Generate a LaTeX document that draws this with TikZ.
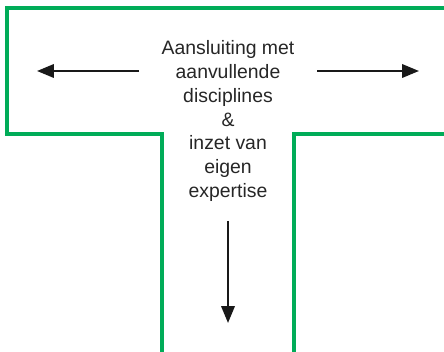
\documentclass[tikz,border=0pt]{standalone}
\usepackage{fontspec}
\setmainfont{Liberation Sans}
\usetikzlibrary{arrows.meta}
\definecolor{tgreen}{RGB}{0,172,88}

\begin{document}
\begin{tikzpicture}[x=0.025cm,y=-0.025cm,thick,
    frame line/.style={draw=tgreen,line width=2.2pt},
    main arrow/.style={draw=black!90,line width=1.6pt,-{Triangle[length=12pt,width=9.5pt]}},
    main text/.style={align=center,inner sep=0pt,font=\fontsize{13.8}{16.9}\selectfont,text=black!85}]
    \useasboundingbox (0,0) rectangle (444,352);
    % T shape, open to the right and at the bottom
    \draw[frame line] (444,8) -- (7,8) -- (7,134) -- (162,134) -- (162,352);
    \draw[frame line] (294,352) -- (294,134) -- (444,134);

    \node[main text] (T) at (228,121) {Aansluiting met\\aanvullende\\disciplines\\\&\\inzet van\\eigen\\expertise};

    \coordinate (L1) at (139,71); \coordinate (L2) at (37,71);
    \coordinate (R1) at (317,71); \coordinate (R2) at (419,71);
    \coordinate (D1) at (228,221); \coordinate (D2) at (228,323);
    \draw[main arrow] (L1) -- (L2);
    \draw[main arrow] (R1) -- (R2);
    \draw[main arrow] (D1) -- (D2);
\end{tikzpicture}
\end{document}
